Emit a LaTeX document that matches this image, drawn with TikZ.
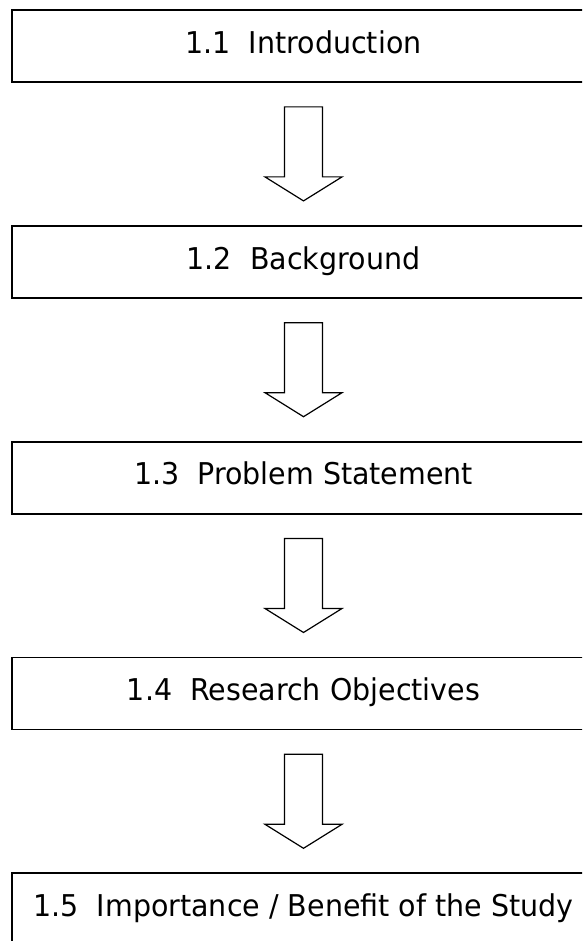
\documentclass[tikz,border=0pt]{standalone}
\usepackage{fontspec}
\setmainfont{DejaVu Sans}[FakeStretch=0.95]
\usetikzlibrary{calc}

\tikzset{
  stage/.style={draw, line width=1.8pt, minimum width=583pt, minimum height=72pt,
    inner sep=0pt, text height=21pt, text depth=6.5pt,
    font=\fontsize{30}{36}\selectfont},
  flowarrow/.style={draw, line width=1.2pt, fill=white, line join=miter},
}

% hollow block arrow from the bottom of one stage to the top of the next
\newcommand\flowstep[2]{%
  \path[flowarrow] let \p1=(#1.south -| axis), \p2=(#2.north -| axis) in
    (\x1-19pt,\y1-24pt) -- (\x1+19pt,\y1-24pt) -- (\x1+19pt,\y2+48pt)
    -- (\x1+38.5pt,\y2+48pt) -- (\x1,\y2+24pt) -- (\x1-38.5pt,\y2+48pt)
    -- (\x1-19pt,\y2+48pt) -- cycle;}

\begin{document}
\begin{tikzpicture}[x=1pt, y=-1pt]
  \useasboundingbox (0,0) rectangle (582,941);
  \clip (0,0) rectangle (582,941);
  \fill[white] (0,0) rectangle (582,941);

  \coordinate (axis) at (303.5,0);

  \node[stage] (s1) at (303.5,46)    {1.1~~Introduction};
  \node[stage] (s2) at (303.5,261.8) {1.2~~Background};
  \node[stage] (s3) at (303.5,477.6) {1.3~~Problem Statement};
  \node[stage] (s4) at (303.5,693.4) {1.4~~Research Objectives};
  \node[stage] (s5) at (303.5,909.2) {1.5~~Importance / Benefit of the Study};

  \flowstep{s1}{s2}
  \flowstep{s2}{s3}
  \flowstep{s3}{s4}
  \flowstep{s4}{s5}
\end{tikzpicture}
\end{document}
